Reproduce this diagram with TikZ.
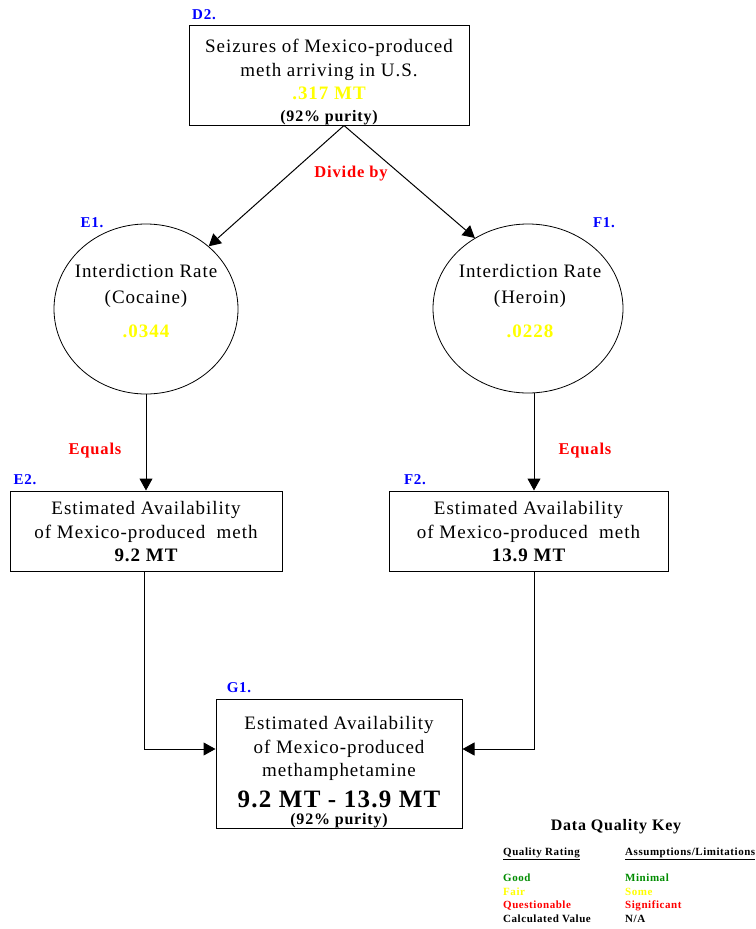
\documentclass[tikz,border=0pt]{standalone}
\usepackage{fontspec}
\setmainfont{Liberation Serif}[LetterSpace=5]
\usetikzlibrary{arrows.meta,shapes.geometric}
\definecolor{valyellow}{RGB}{255,255,0}
\definecolor{opred}{RGB}{255,0,0}
\definecolor{tagblue}{RGB}{0,0,255}
\definecolor{goodgreen}{RGB}{0,140,0}

\begin{document}
\begin{tikzpicture}[x=1pt,y=-1pt,
    flow/.style={-{Triangle[length=12pt,width=13pt]},line width=1pt},
    stepbox/.style={draw,line width=1pt,inner sep=0pt,align=center,font=\fontsize{19}{23.5}\selectfont},
    rate/.style={draw,ellipse,line width=0.8pt,inner sep=0pt},
    ratetext/.style={align=center,inner sep=0pt,font=\fontsize{19}{26}\selectfont},
    tag/.style={anchor=base,text=tagblue,inner sep=0pt,font=\fontsize{15}{15}\selectfont\bfseries},
    op/.style={anchor=base,text=opred,inner sep=0pt,font=\fontsize{16.5}{16.5}\selectfont\bfseries},
    keyitem/.style={anchor=base west,inner sep=0pt,font=\fontsize{11}{11}\selectfont\bfseries}]

    %mybounds
    \useasboundingbox (0,0) rectangle (755,929);

    %seizures
    \node[tag] (D2tag) at (204,19) {D2.};
    \node[stepbox,minimum width=280pt,text height=96.5pt,text depth=3.5pt] (D2) at (329,75)
      {Seizures of Mexico-produced\\meth arriving in U.S.\\{\bfseries\color{valyellow}.317 MT}\\[-1.5pt]{\fontsize{16}{16}\selectfont\bfseries (92\% purity)}};

    %interdictionrates
    \node[tag] (E1tag) at (92,227) {E1.};
    \node[rate,minimum width=184pt,minimum height=170pt] (E1) at (146,309) {};
    \node[ratetext] (E1text) at (146,301) {Interdiction Rate\\(Cocaine)\\[8pt]{\bfseries\color{valyellow}.0344}};

    \node[tag] (F1tag) at (604,227) {F1.};
    \node[rate,minimum width=190pt,minimum height=169pt] (F1) at (528,308.5) {};
    \node[ratetext] (F1text) at (530,301) {Interdiction Rate\\(Heroin)\\[8pt]{\bfseries\color{valyellow}.0228}};

    \draw[flow] ([xshift=15pt]D2.south) -- (E1.45);
    \draw[flow] ([xshift=15pt]D2.south) -- (F1.127);
    \node[op] (divide) at (351,177.6) {Divide by};

    %availability
    \node[tag] (E2tag) at (25,484) {E2.};
    \node[stepbox,minimum width=272pt,text height=70.5pt,text depth=9.5pt] (E2) at (146,531)
      {Estimated Availability\\of Mexico-produced~~meth\\{\bfseries 9.2 MT}};

    \node[tag] (F2tag) at (415,484) {F2.};
    \node[stepbox,minimum width=279pt,text height=70.5pt,text depth=9.5pt] (F2) at (528.5,531)
      {Estimated Availability\\of Mexico-produced~~meth\\{\bfseries 13.9 MT}};

    \coordinate (F2in) at ([xshift=5.5pt]F2.north);
    \draw[flow] (E1.south) -- (E1.south |- E2.north);
    \draw[flow] (F1.south -| F2in) -- (F2in);
    \node[op] (equalsE) at (95,454.6) {Equals};
    \node[op] (equalsF) at (585,454.6) {Equals};

    %total
    \node[tag] (G1tag) at (239,692) {G1.};
    \node[stepbox,minimum width=246pt,text height=125.5pt,text depth=3.5pt] (G1) at (339,763.5)
      {Estimated Availability\\of Mexico-produced\\methamphetamine\\[7.5pt]{\fontsize{25}{25}\selectfont\bfseries 9.2 MT - 13.9 MT}\\[-6.5pt]{\fontsize{16}{16}\selectfont\bfseries (92\% purity)}};

    \draw[flow] ([xshift=-2pt]E2.south) |- ([yshift=14.5pt]G1.west);
    \draw[flow] ([xshift=5.5pt]F2.south) |- ([yshift=14.5pt]G1.east);

    %qualitykey
    \node[anchor=base,inner sep=0pt,font=\fontsize{16}{16}\selectfont\bfseries] (keytitle) at (616,830.4) {Data Quality Key};
    \node[keyitem] (keyrating) at (503,855.7) {\underline{Quality Rating}};
    \node[keyitem] (keylimits) at (625,855.7) {\underline{Assumptions/Limitations}};
    \node[keyitem,text=goodgreen] (keygood) at (503,881.7) {Good};
    \node[keyitem,text=goodgreen] (keyminimal) at (625,881.7) {Minimal};
    \node[keyitem,text=valyellow] (keyfair) at (503,895.7) {Fair};
    \node[keyitem,text=valyellow] (keysome) at (625,895.7) {Some};
    \node[keyitem,text=opred] (keyquestion) at (503,908.7) {Questionable};
    \node[keyitem,text=opred] (keysignif) at (625,908.7) {Significant};
    \node[keyitem] (keycalc) at (503,922.7) {Calculated Value};
    \node[keyitem] (keyna) at (625,922.7) {N/A};

  \end{tikzpicture}
\end{document}
